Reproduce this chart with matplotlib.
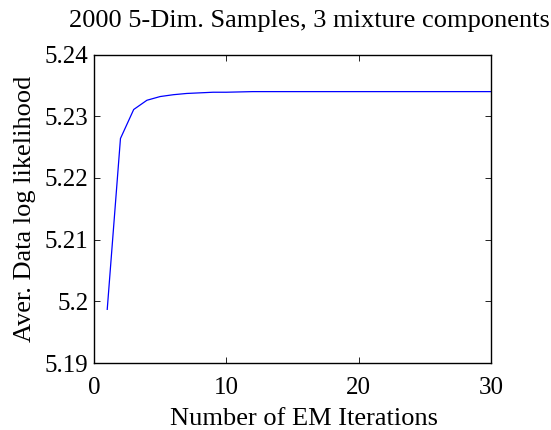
import matplotlib
matplotlib.use("Agg")
import matplotlib.pyplot as plt

iterations = list(range(1, 31))
loglik = [5.1987, 5.2264, 5.2311, 5.2326, 5.2332, 5.2335, 5.2337, 5.2338, 5.2339, 5.2339,
          5.23395, 5.2340, 5.2340, 5.2340, 5.2340, 5.2340, 5.2340, 5.2340, 5.2340, 5.2340,
          5.2340, 5.2340, 5.2340, 5.2340, 5.2340, 5.2340, 5.2340, 5.2340, 5.2340, 5.2340]
xticks = [0, 10, 20, 30]
yticks = [5.19, 5.20, 5.21, 5.22, 5.23, 5.24]
yticklabels = ["5.19", "5.2", "5.21", "5.22", "5.23", "5.24"]

plt.rcParams['font.family'] = ['Liberation Serif', 'DejaVu Serif']

fig = plt.figure(figsize=(5.51, 4.30), dpi=100)
ax = fig.add_axes([0.1706, 0.1558, 0.7204, 0.7172])
ax.plot(iterations, loglik, color=(0, 0, 1), lw=0.9)
ax.set_xlim(0, 30)
ax.set_ylim(5.19, 5.24)
ax.set_xticks(xticks)
ax.set_yticks(yticks)
ax.set_yticklabels(yticklabels)
ax.tick_params(direction='in', top=True, right=True, length=4, width=0.6,
               labelsize=18)
ax.tick_params(axis='x', pad=10)
ax.tick_params(axis='y', pad=4)
for s in ax.spines.values():
    s.set_linewidth(1.0)
ax.set_xlabel("Number of EM Iterations", fontsize=19, labelpad=6.5, x=0.529)
ax.set_ylabel("Aver. Data log likelihood", fontsize=19, labelpad=6)
ax.set_title("2000 5-Dim. Samples, 3 mixture components", fontsize=19, pad=20, x=0.542)
fig.savefig("out.png", dpi=100)
